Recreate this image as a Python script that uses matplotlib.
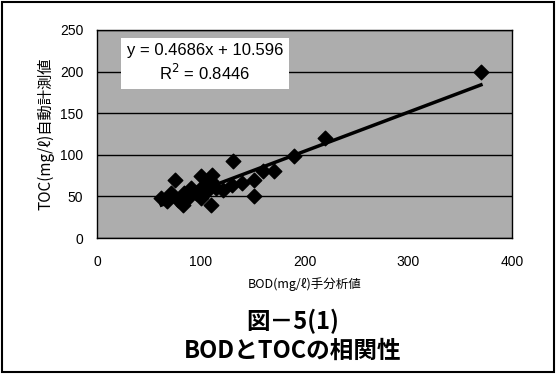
import matplotlib.pyplot as plt
from matplotlib.patches import Rectangle
import numpy as np

plt.rcParams['font.family'] = ['Noto Sans CJK JP', 'DejaVu Sans']

# dane
bod = [370, 220, 190, 171, 160, 151, 151, 140, 131, 130, 121, 115, 111, 110, 110,
       106, 102, 100, 100, 95, 91, 87, 84, 83, 78, 75, 71, 67, 62]
toc = [199, 120, 99, 80, 81, 70, 50, 66, 92, 64, 58, 60, 76, 68, 40,
       56, 62, 74, 48, 54, 60, 47, 54, 40, 46, 70, 54, 44, 48]
a = 0.4686
b = 10.596
r2 = 0.8446

fig = plt.figure(figsize=(5.56, 3.78), dpi=100)
fig.patch.set_facecolor('white')
ax = fig.add_axes([0.1745, 0.370, 0.7465, 0.551])
ax.set_facecolor('#adadad')

ax.scatter(bod, toc, marker='D', s=55, color='black', zorder=3)
xl = np.array([min(bod), max(bod)])
ax.plot(xl, a * xl + b, color='black', linewidth=2.5, zorder=4)

ax.set_xlim(0, 400)
ax.set_ylim(0, 250)
ax.set_xticks([0, 100, 200, 300, 400])
ax.set_yticks([0, 50, 100, 150, 200, 250])
ax.yaxis.grid(True, color='black', linewidth=1.0)
ax.set_axisbelow(True)
ax.tick_params(length=0, labelsize=10, pad=10)
ax.tick_params(axis='x', pad=12)
for lab in ax.get_xticklabels() + ax.get_yticklabels():
    lab.set_family('Liberation Sans')
for s in ax.spines.values():
    s.set_color('black')
    s.set_linewidth(1.0)

ax.set_xlabel('BOD(mg/ℓ)手分析値', fontsize=9, labelpad=6)
ax.set_ylabel('TOC(mg/ℓ)自動計測値', fontsize=11, labelpad=4)

ax.text(0.26, 0.84, 'y = 0.4686x + 10.596\nR$^2$ = 0.8446', transform=ax.transAxes,
        ha='center', va='center', fontsize=12, linespacing=1.25, family='Liberation Sans',
        bbox=dict(facecolor='white', edgecolor='none', boxstyle='square,pad=0.35'))

fig.text(0.527, 0.150, '図－5(1)', ha='center', va='center', fontsize=17, fontweight='bold')
fig.text(0.527, 0.072, 'BODとTOCの相関性', ha='center', va='center', fontsize=17, fontweight='bold')

fig.patches.append(Rectangle((0.004, 0.016), 0.992, 0.978, transform=fig.transFigure,
                             fill=False, edgecolor='black', linewidth=1.5))

plt.savefig('out.png', dpi=100)
